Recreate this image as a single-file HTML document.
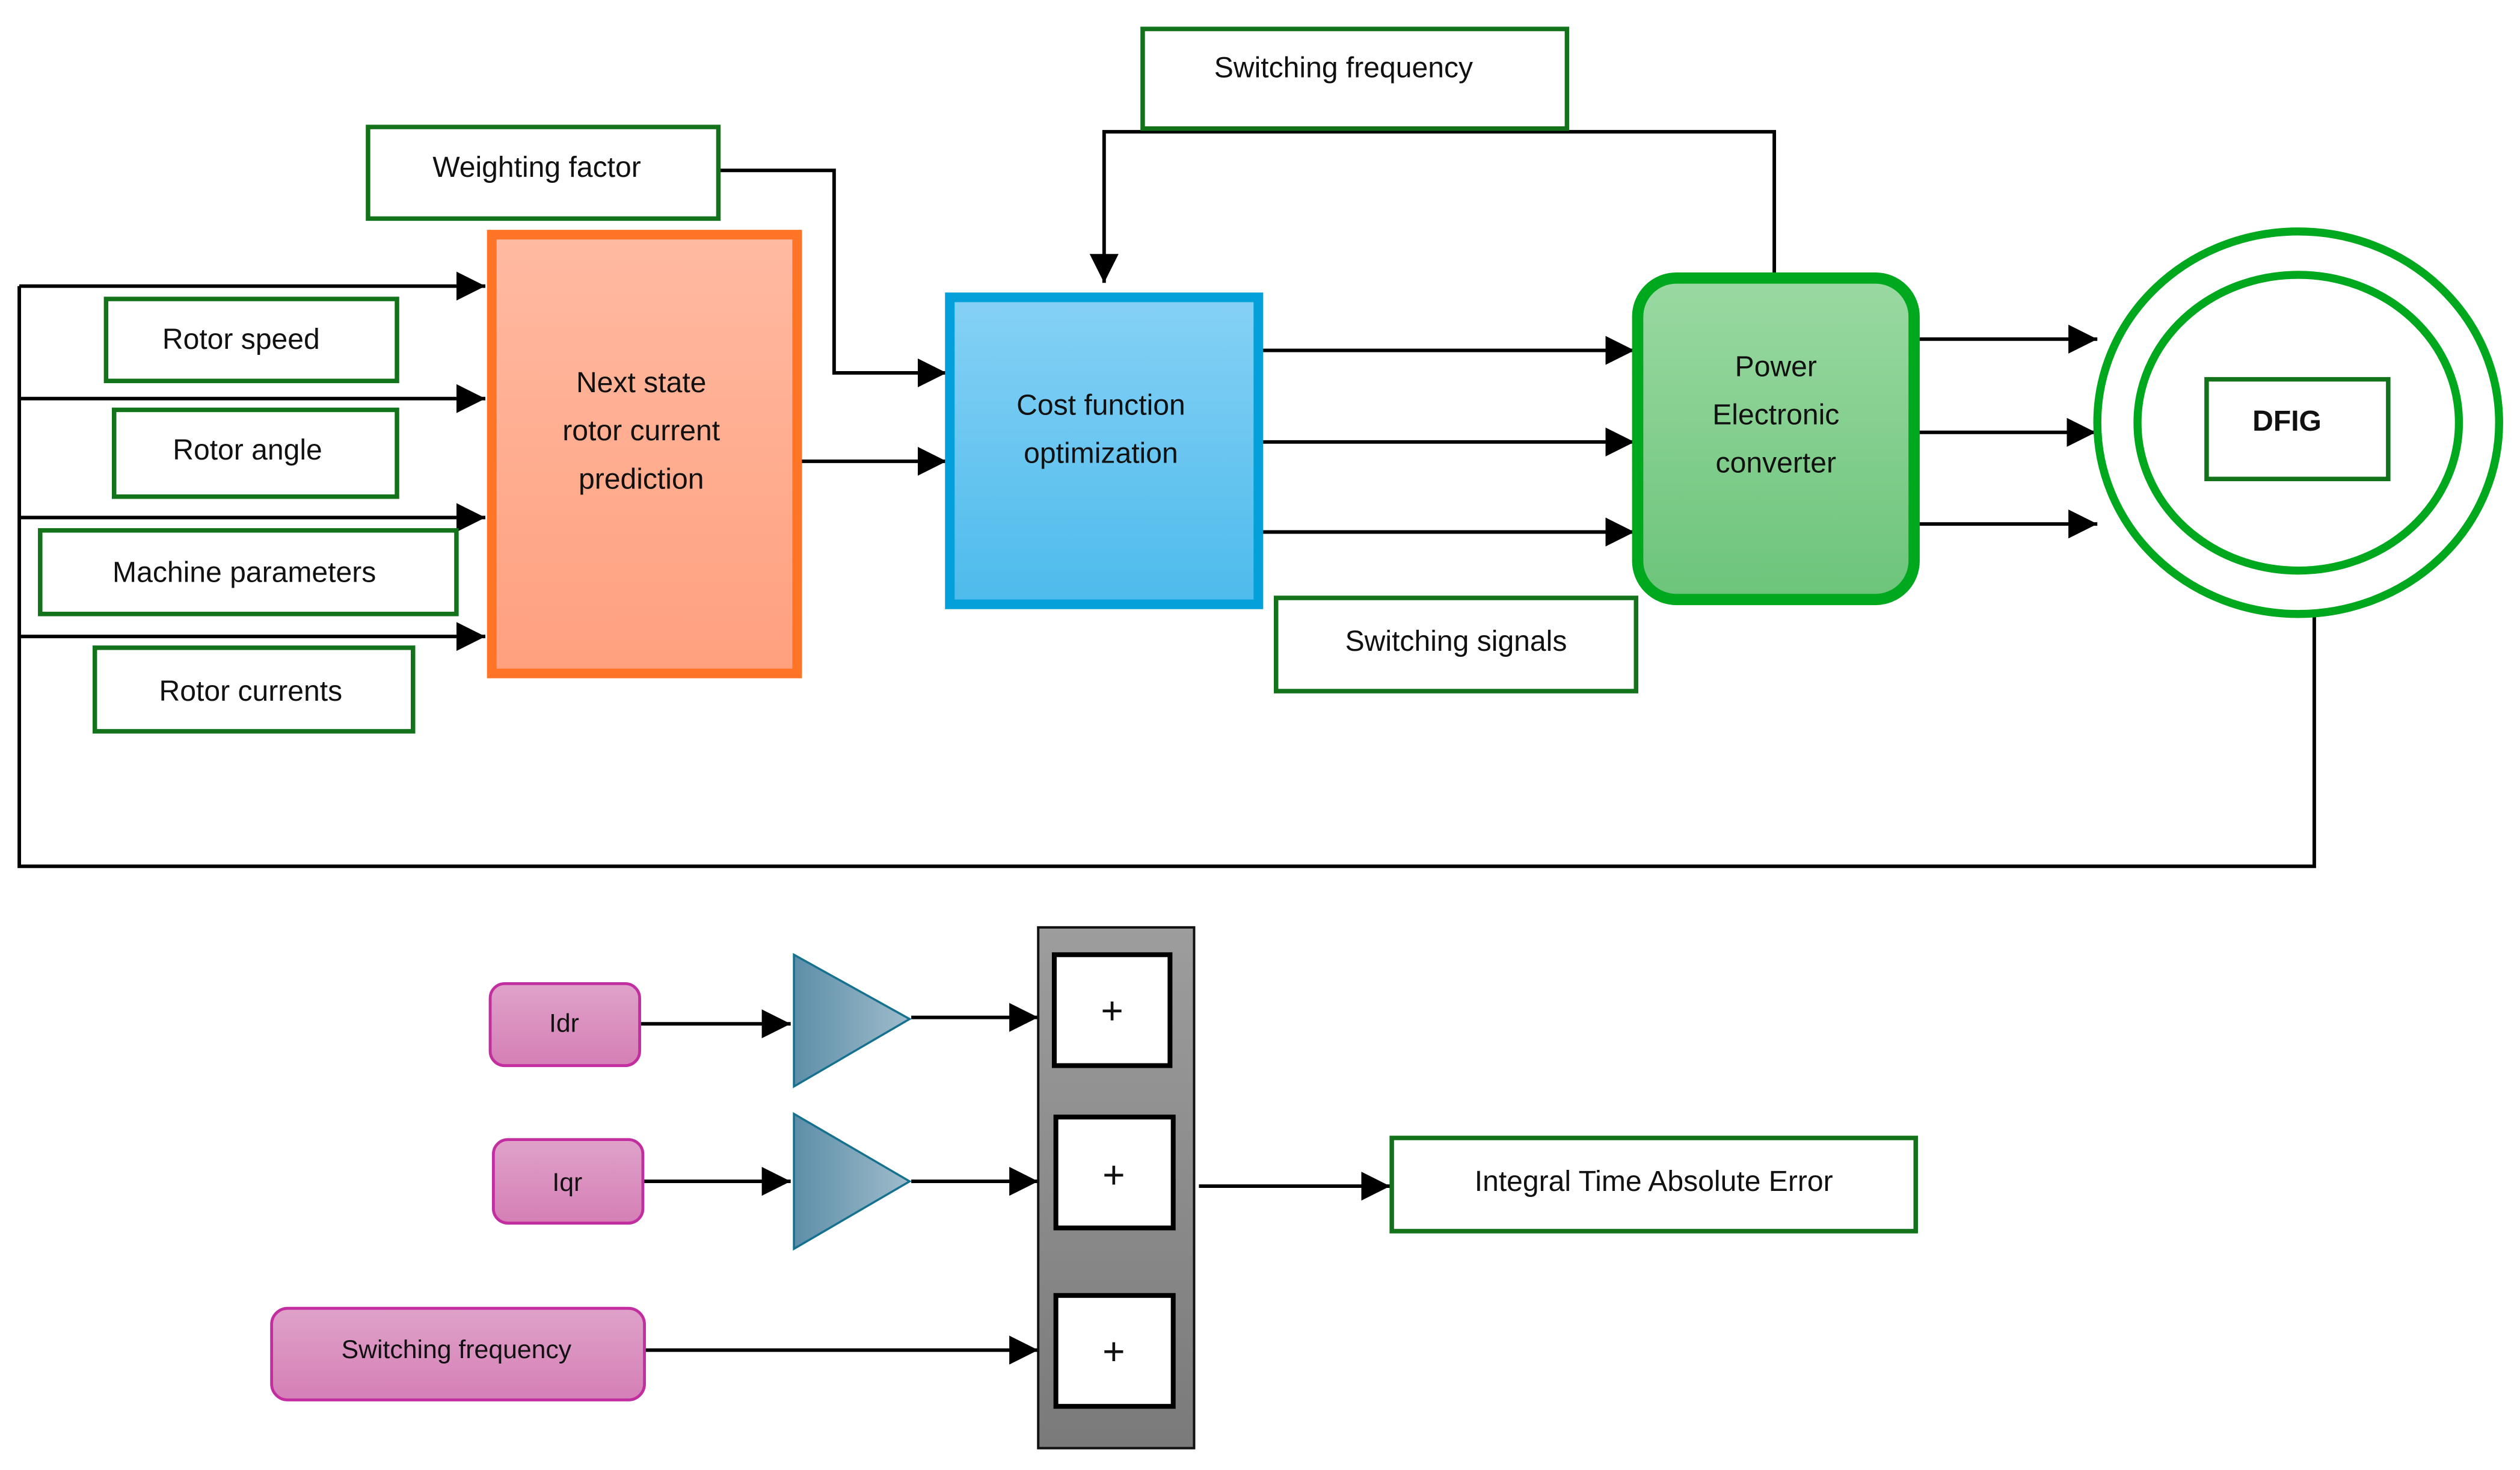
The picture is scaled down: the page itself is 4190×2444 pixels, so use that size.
<!DOCTYPE html>
<html><head><meta charset="utf-8"><style>
html,body{margin:0;padding:0;background:#fff;}
svg{display:block;}
text{font-family:"Liberation Sans",sans-serif;fill:#111;}
</style></head><body>
<svg width="4190" height="2444" viewBox="0 0 1568 914.6" preserveAspectRatio="none" xmlns="http://www.w3.org/2000/svg">
<defs>
<marker id="ar" markerWidth="10" markerHeight="10" refX="9" refY="5" orient="auto" markerUnits="userSpaceOnUse"><path d="M0,0 L10,5 L0,10 z" fill="#000"/></marker>
<marker id="ab" viewBox="0 0 10 10" markerWidth="18" markerHeight="18" refX="10" refY="5" orient="auto" markerUnits="userSpaceOnUse"><path d="M0,0 L10,5 L0,10 z" fill="#000"/></marker>
<linearGradient id="go" x1="0" y1="0" x2="0" y2="1"><stop offset="0" stop-color="#ffbaa2"/><stop offset="1" stop-color="#ffa07e"/></linearGradient>
<linearGradient id="gb" x1="0" y1="0" x2="0" y2="1"><stop offset="0" stop-color="#86d1f5"/><stop offset="1" stop-color="#4dbbec"/></linearGradient>
<linearGradient id="gg" x1="0" y1="0" x2="0" y2="1"><stop offset="0" stop-color="#9ad9a2"/><stop offset="1" stop-color="#6cc47a"/></linearGradient>
<linearGradient id="gp" x1="0" y1="0" x2="0" y2="1"><stop offset="0" stop-color="#dfa2c9"/><stop offset="1" stop-color="#d57fb6"/></linearGradient>
<linearGradient id="gt" x1="0" y1="0" x2="1" y2="0"><stop offset="0" stop-color="#5d8ea8"/><stop offset="1" stop-color="#9fbccb"/></linearGradient>
<linearGradient id="gr" x1="0" y1="0" x2="0" y2="1"><stop offset="0" stop-color="#9d9d9d"/><stop offset="1" stop-color="#7a7a7a"/></linearGradient>
</defs>
<g fill="none" stroke="#000" stroke-width="2.2">
<!-- feedback loop -->
<polyline points="12,178 12,539 1440,539 1440,381"/>
<line x1="12" y1="178" x2="302" y2="178" marker-end="url(#ab)"/>
<line x1="12" y1="248" x2="302" y2="248" marker-end="url(#ab)"/>
<line x1="12" y1="322" x2="302" y2="322" marker-end="url(#ab)"/>
<line x1="12" y1="396" x2="302" y2="396" marker-end="url(#ab)"/>
<polyline points="447,106 519,106 519,232 589,232" marker-end="url(#ab)"/>
<line x1="497" y1="287" x2="589" y2="287" marker-end="url(#ab)"/>
<line x1="784" y1="218" x2="1017" y2="218" marker-end="url(#ab)"/>
<line x1="784" y1="275" x2="1017" y2="275" marker-end="url(#ab)"/>
<line x1="784" y1="331" x2="1017" y2="331" marker-end="url(#ab)"/>
<line x1="1192" y1="211" x2="1305" y2="211" marker-end="url(#ab)"/>
<line x1="1192" y1="269" x2="1304" y2="269" marker-end="url(#ab)"/>
<line x1="1192" y1="326" x2="1305" y2="326" marker-end="url(#ab)"/>
<polyline points="1104,170 1104,82 687,82 687,176" marker-end="url(#ab)"/>
<!-- bottom -->
<line x1="398" y1="637" x2="492" y2="637" marker-end="url(#ab)"/>
<line x1="567" y1="633" x2="646" y2="633" marker-end="url(#ab)"/>
<line x1="400" y1="735" x2="492" y2="735" marker-end="url(#ab)"/>
<line x1="567" y1="735" x2="646" y2="735" marker-end="url(#ab)"/>
<line x1="401" y1="840" x2="646" y2="840" marker-end="url(#ab)"/>
<line x1="746" y1="738" x2="865" y2="738" marker-end="url(#ab)"/>
</g>
<!-- main blocks -->
<rect x="306" y="146" width="190" height="273" fill="url(#go)" stroke="#ff7426" stroke-width="6"/>
<rect x="591" y="185" width="192" height="191" fill="url(#gb)" stroke="#04a0da" stroke-width="6"/>
<rect x="1019" y="173" width="172" height="200" rx="24" fill="url(#gg)" stroke="#00a81e" stroke-width="7"/>
<ellipse cx="1430" cy="263" rx="125" ry="119" fill="none" stroke="#00a81e" stroke-width="5"/>
<ellipse cx="1430" cy="263" rx="100" ry="92" fill="none" stroke="#00a81e" stroke-width="5"/>
<g fill="#fff" stroke="#12731a" stroke-width="2.8">
<rect x="711" y="18" width="264" height="62"/>
<rect x="229" y="79" width="218" height="57"/>
<rect x="66" y="186" width="181" height="51"/>
<rect x="71" y="255" width="176" height="54"/>
<rect x="25" y="330" width="259" height="52"/>
<rect x="59" y="403" width="198" height="52"/>
<rect x="794" y="372" width="224" height="58"/>
<rect x="1373" y="236" width="113" height="62"/>
<rect x="866" y="708" width="326" height="58"/>
</g>
<g font-size="18" text-anchor="middle">
<text x="836" y="48">Switching frequency</text>
<text x="334" y="110">Weighting factor</text>
<text x="150" y="217">Rotor speed</text>
<text x="154" y="286">Rotor angle</text>
<text x="152" y="362">Machine parameters</text>
<text x="156" y="436">Rotor currents</text>
<text x="906" y="405">Switching signals</text>
<text x="1423" y="268" font-weight="bold">DFIG</text>
<text x="1029" y="741">Integral Time Absolute Error</text>
<text x="399" y="244">Next state</text>
<text x="399" y="274">rotor current</text>
<text x="399" y="304">prediction</text>
<text x="685" y="258">Cost function</text>
<text x="685" y="288">optimization</text>
<text x="1105" y="234">Power</text>
<text x="1105" y="264">Electronic</text>
<text x="1105" y="294">converter</text>
</g>
<!-- bottom section -->
<rect x="646" y="577" width="97" height="324" fill="url(#gr)" stroke="#111" stroke-width="1.5"/>
<g fill="#fff" stroke="#000" stroke-width="3">
<rect x="656" y="594" width="72" height="69"/>
<rect x="657" y="695" width="73" height="69"/>
<rect x="657" y="806" width="73" height="69"/>
</g>
<g font-size="24" text-anchor="middle">
<text x="692" y="637">+</text><text x="693" y="739">+</text><text x="693" y="849">+</text>
</g>
<g fill="url(#gp)" stroke="#c22ea0" stroke-width="1.8">
<rect x="305" y="612" width="93" height="51" rx="9"/>
<rect x="307" y="709" width="93" height="52" rx="9"/>
<rect x="169" y="814" width="232" height="57" rx="10"/>
</g>
<g font-size="16" text-anchor="middle">
<text x="351" y="642">Idr</text>
<text x="353" y="741">Iqr</text>
<text x="284" y="845">Switching frequency</text>
</g>
<polygon points="494,594 566,634 494,676" fill="url(#gt)" stroke="#16708f" stroke-width="1.3"/>
<polygon points="494,693 566,735 494,777" fill="url(#gt)" stroke="#16708f" stroke-width="1.3"/>
</svg>
</body></html>
